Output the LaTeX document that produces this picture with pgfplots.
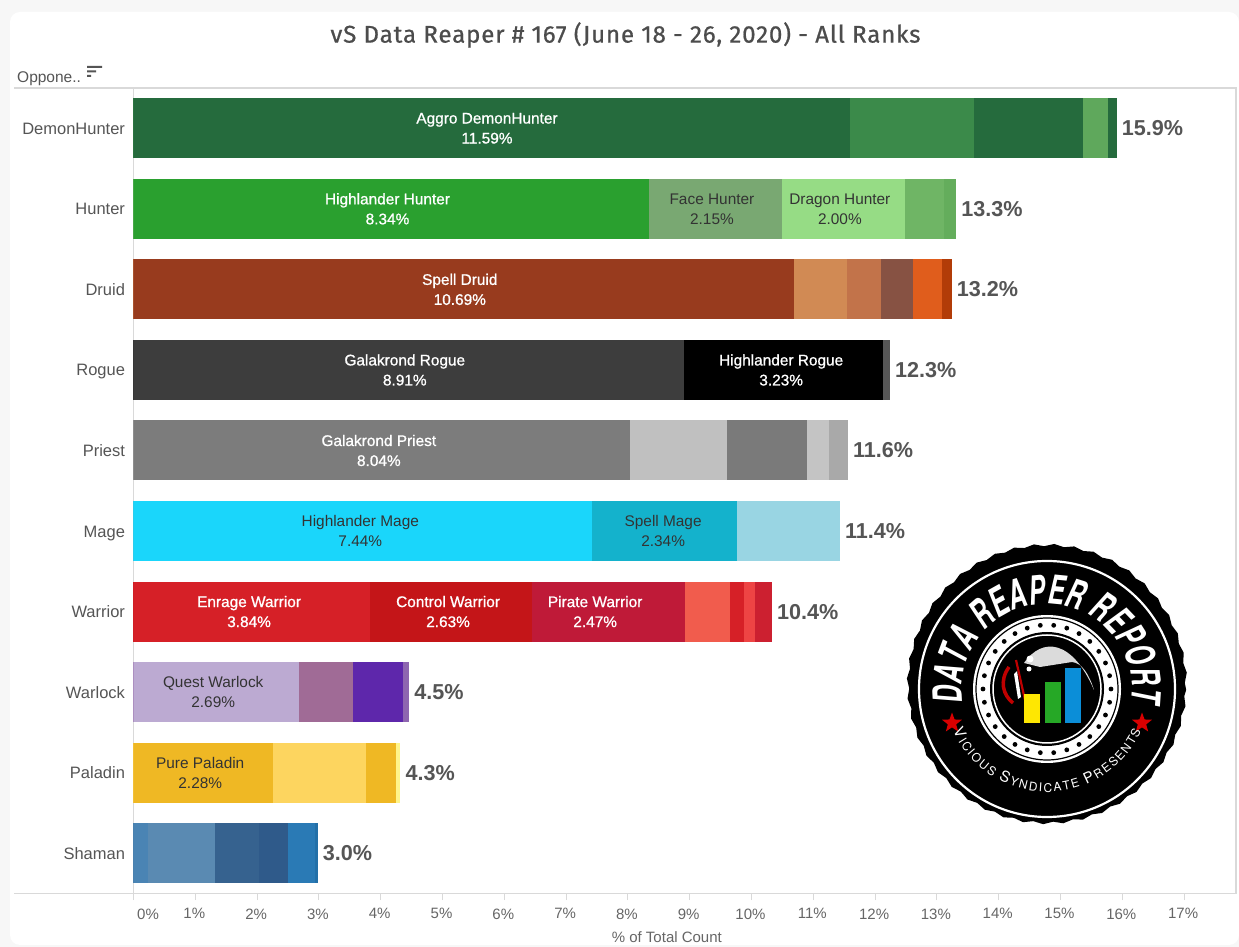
\documentclass[border=0pt]{standalone}
\usepackage{fontspec}
\usepackage{pgfplots}
\pgfplotsset{compat=1.18}
\usetikzlibrary{decorations.text,decorations.pathmorphing,shapes.geometric}
\setmainfont{Liberation Sans}
\newfontfamily\titlefont[FakeBold=0.7]{Fira Sans}
\newfontfamily\whitefont[FakeBold=0.9]{Liberation Sans}
\newfontfamily\logofont[FakeStretch=0.62]{TeX Gyre Heros}
\newfontfamily\logosmall{TeX Gyre Heros}

\definecolor{page}{HTML}{F7F7F7}
\definecolor{rule}{HTML}{D9D9D9}
\definecolor{ink}{HTML}{555555}
\definecolor{tickc}{HTML}{666666}
\definecolor{dhA}{HTML}{256B3D}\definecolor{dhB}{HTML}{3B8A4A}\definecolor{dhC}{HTML}{5FA85C}
\definecolor{huA}{HTML}{2AA02F}\definecolor{huB}{HTML}{79A872}\definecolor{huC}{HTML}{96DC85}
\definecolor{huD}{HTML}{6FB565}\definecolor{huE}{HTML}{64AD5C}
\definecolor{drA}{HTML}{983B1E}\definecolor{drB}{HTML}{D18A54}\definecolor{drC}{HTML}{C2734A}
\definecolor{drD}{HTML}{875243}\definecolor{drE}{HTML}{E05D1C}\definecolor{drF}{HTML}{B23C08}
\definecolor{roA}{HTML}{3D3D3D}\definecolor{roB}{HTML}{000000}\definecolor{roC}{HTML}{575757}
\definecolor{prA}{HTML}{7C7C7C}\definecolor{prB}{HTML}{C0C0C0}\definecolor{prC}{HTML}{7A7A7A}
\definecolor{prD}{HTML}{C4C4C4}\definecolor{prE}{HTML}{A9A9A9}
\definecolor{maA}{HTML}{1AD6FB}\definecolor{maB}{HTML}{14B2CC}\definecolor{maC}{HTML}{99D5E3}
\definecolor{waA}{HTML}{D62027}\definecolor{waB}{HTML}{C41518}\definecolor{waC}{HTML}{BF1A38}
\definecolor{waD}{HTML}{F15C4D}\definecolor{waE}{HTML}{EE4444}\definecolor{waF}{HTML}{CC2030}
\definecolor{wlA}{HTML}{BCAAD2}\definecolor{wlB}{HTML}{A06B96}\definecolor{wlC}{HTML}{5E27AB}\definecolor{wlD}{HTML}{8E66B0}
\definecolor{paA}{HTML}{EFB824}\definecolor{paB}{HTML}{FDD55F}\definecolor{paC}{HTML}{FFF58A}
\definecolor{shA}{HTML}{4A84B4}\definecolor{shB}{HTML}{5A8AB2}\definecolor{shC}{HTML}{36628F}
\definecolor{shD}{HTML}{2F5A8A}\definecolor{shE}{HTML}{2A7AB5}\definecolor{shF}{HTML}{2370A8}

% one part of a bar: where it ends, the row, its colour (longest first, the shorter ones lie on top)
\newcommand{\seg}[3]{\addplot[fill=#3,draw=none] coordinates {(#1,#2)};}
\newcommand{\total}[3]{\node[anchor=west,inner sep=0pt,xshift=5pt,text=ink,font=\fontsize{21.6}{21.6}\selectfont\bfseries] at (axis cs:#1,#2) {#3};}
\newcommand{\wlab}[4]{\node[align=center,inner sep=0pt,text=white,font=\fontsize{15.4}{20}\whitefont] at (axis cs:#1,#2) {#3\\#4};}
\newcommand{\dlab}[4]{\node[align=center,inner sep=0pt,text=black!80,font=\fontsize{15.4}{20}\selectfont] at (axis cs:#1,#2) {#3\\#4};}

\begin{document}
\begin{tikzpicture}
% page and card
\path[use as bounding box,fill=page] (0pt,0pt) rectangle (1239pt,947pt);
\fill[white,rounded corners=10pt] (10pt,2pt) rectangle (1239pt,935pt);
\node[text=ink!90!black,font=\fontsize{24.1}{24.1}\titlefont\addfontfeature{LetterSpace=3.5}] at (625.5pt,912pt) {vS Data Reaper \# 167 (June 18 - 26, 2020) - All Ranks};
\node[anchor=west,inner sep=0pt,text=ink,font=\fontsize{15.5}{15.5}\selectfont] at (17pt,868pt) {Oppone..};
\fill[ink] (87pt,879pt) rectangle (102pt,881pt) (87pt,874.5pt) rectangle (96pt,876.5pt) (87pt,870pt) rectangle (91pt,872pt);
\draw[rule,line width=1.2pt] (14pt,859pt) -- (133.5pt,859pt);
\draw[rule,line width=1.2pt] (14pt,53.5pt) -- (133.5pt,53.5pt);

\begin{axis}[
    at={(133.5pt,53.5pt)},
    anchor=south west,
    scale only axis,
    width=1102.5pt,
    height=805.5pt,
    xbar,
    bar width=60pt,
    bar shift=0pt,
    xmin=0, xmax=17.84,
    ymin=-0.5, ymax=9.5,
    y dir=reverse,
    axis line style={draw=rule,line width=1.2pt},
    tick align=outside,
    xtick pos=bottom,
    ytick pos=left,
    xtick={1,2,3,4,5,6,7,8,9,10,11,12,13,14,15,16,17},
    xticklabels={1\%,2\%,3\%,4\%,5\%,6\%,7\%,8\%,9\%,10\%,11\%,12\%,13\%,14\%,15\%,16\%,17\%},
    extra x ticks={0},
    extra x tick labels={0\%},
    extra x tick style={xticklabel style={xshift=15.5pt}},
    x tick style={draw=rule,line width=1pt},
    major tick length=6.5pt,
    xticklabel style={text=tickc,font=\fontsize{15}{15}\selectfont,yshift=-5pt,xshift=-1pt},
    ytick={0,1,2,3,4,5,6,7,8,9},
    yticklabels={DemonHunter,Hunter,Druid,Rogue,Priest,Mage,Warrior,Warlock,Paladin,Shaman},
    y tick style={draw=none},
    yticklabel style={text=ink,font=\fontsize{16.5}{16.5}\selectfont,xshift=1.5pt,text height=12pt,text depth=0pt},
    xlabel={\% of Total Count},
    xlabel style={text=tickc,font=\fontsize{15}{15}\selectfont,at={(axis cs:8.63,9.5)},anchor=north,yshift=-35pt},
]
% DemonHunter
\seg{15.91}{0}{dhA}\seg{15.77}{0}{dhC}\seg{15.36}{0}{dhA}\seg{13.60}{0}{dhB}\seg{11.59}{0}{dhA}
% Hunter
\seg{13.31}{1}{huE}\seg{13.12}{1}{huD}\seg{12.49}{1}{huC}\seg{10.49}{1}{huB}\seg{8.34}{1}{huA}
% Druid
\seg{13.24}{2}{drF}\seg{13.09}{2}{drE}\seg{12.62}{2}{drD}\seg{12.10}{2}{drC}\seg{11.55}{2}{drB}\seg{10.69}{2}{drA}
% Rogue
\seg{12.24}{3}{roC}\seg{12.12}{3}{roB}\seg{8.91}{3}{roA}
% Priest
\seg{11.56}{4}{prE}\seg{11.25}{4}{prD}\seg{10.90}{4}{prC}\seg{9.61}{4}{prB}\seg{8.03}{4}{prA}
% Mage
\seg{11.43}{5}{maC}\seg{9.76}{5}{maB}\seg{7.42}{5}{maA}
% Warrior
\seg{10.33}{6}{waF}\seg{10.05}{6}{waE}\seg{9.88}{6}{waA}\seg{9.66}{6}{waD}\seg{8.92}{6}{waC}\seg{6.45}{6}{waB}\seg{3.82}{6}{waA}
% Warlock
\seg{4.46}{7}{wlD}\seg{4.36}{7}{wlC}\seg{3.55}{7}{wlB}\seg{2.67}{7}{wlA}
% Paladin
\seg{4.32}{8}{paC}\seg{4.25}{8}{paA}\seg{3.77}{8}{paB}\seg{2.25}{8}{paA}
% Shaman
\seg{2.98}{9}{shF}\seg{2.94}{9}{shE}\seg{2.50}{9}{shD}\seg{2.03}{9}{shC}\seg{1.32}{9}{shB}\seg{0.24}{9}{shA}

\wlab{5.72}{0}{Aggro DemonHunter}{11.59\%}
\wlab{4.11}{1}{Highlander Hunter}{8.34\%}
\dlab{9.36}{1}{Face Hunter}{2.15\%}
\dlab{11.43}{1}{Dragon Hunter}{2.00\%}
\wlab{5.28}{2}{Spell Druid}{10.69\%}
\wlab{4.39}{3}{Galakrond Rogue}{8.91\%}
\wlab{10.48}{3}{Highlander Rogue}{3.23\%}
\wlab{3.97}{4}{Galakrond Priest}{8.04\%}
\dlab{3.67}{5}{Highlander Mage}{7.44\%}
\dlab{8.57}{5}{Spell Mage}{2.34\%}
\wlab{1.87}{6}{Enrage Warrior}{3.84\%}
\wlab{5.09}{6}{Control Warrior}{2.63\%}
\wlab{7.47}{6}{Pirate Warrior}{2.47\%}
\dlab{1.29}{7}{Quest Warlock}{2.69\%}
\dlab{1.08}{8}{Pure Paladin}{2.28\%}

\total{15.91}{0}{15.9\%}
\total{13.31}{1}{13.3\%}
\total{13.24}{2}{13.2\%}
\total{12.24}{3}{12.3\%}
\total{11.56}{4}{11.6\%}
\total{11.43}{5}{11.4\%}
\total{10.33}{6}{10.4\%}
\total{4.46}{7}{4.5\%}
\total{4.32}{8}{4.3\%}
\total{2.98}{9}{3.0\%}
\end{axis}

% Data Reaper Report badge
\begin{scope}[shift={(1047pt,258pt)},x=1pt,y=1pt]
\fill[black,decorate,decoration={snake,segment length=20pt,amplitude=1.2pt}] (0,0) circle (139);
\draw[white,line width=2.2pt] (0,0) circle (128);
\fill[white] (0,0) circle (74);
\draw[black,line width=1.2pt] (0,0) circle (71);
\foreach \a in {0,12,...,348} \fill[black] (\a:64) circle (2.4);
\fill[black] (0,0) circle (57);
\draw[white,line width=1.5pt] (0,0) circle (54);
\fill[black] (0,0) circle (50);
% scythe
\fill[black!14] (-23,26) .. controls (-5,52) and (25,50) .. (47,-1) .. controls (42,15) and (35,26) .. (25,27) -- (-7,22) -- cycle;
\fill[white] (-17,30) circle (3.5) (-18,20) circle (2.5);
\draw[red!75!black,line width=2.2pt] (-31,29) -- (-22,-11);
\draw[red!75!black,line width=3.5pt] (-38,22) .. controls (-48,8) and (-44,-6) .. (-34,-14);
\fill[white] (-33,15) -- (-30,18) -- (-26,-8) -- (-29,-10) -- cycle;
% small bars
\fill[yellow!90!orange] (-23,-34) rectangle (-7,-5);
\fill[green!60!black!85!white] (-2,-34) rectangle (14,7);
\fill[cyan!75!blue] (18,-34) rectangle (34,21);
% stars
\node[star,star points=5,star point ratio=2.4,fill=red!85!black,minimum size=21pt,inner sep=0pt] at (-95,-34) {};
\node[star,star points=5,star point ratio=2.4,fill=red!85!black,minimum size=21pt,inner sep=0pt] at (95,-34) {};
% curved texts
\path[decorate,decoration={text along path,text color=white,text align={fit to path},
    text={|\fontsize{40}{40}\logofont\bfseries\itshape|DATA{ }REAPER{ }REPORT}}]
    (189:85) arc[start angle=189,end angle=-9,radius=85];
\path[decorate,decoration={text along path,text color=white,text align={fit to path},
    text={|\fontsize{15}{15}\logosmall|V|\fontsize{12}{12}\logosmall|ICIOUS{ }|\fontsize{15}{15}\logosmall|S|\fontsize{12}{12}\logosmall|YNDICATE{ }|\fontsize{15}{15}\logosmall|P|\fontsize{12}{12}\logosmall|RESENTS}}]
    (204:103) arc[start angle=204,end angle=336,radius=103];
\end{scope}
\end{tikzpicture}
\end{document}
